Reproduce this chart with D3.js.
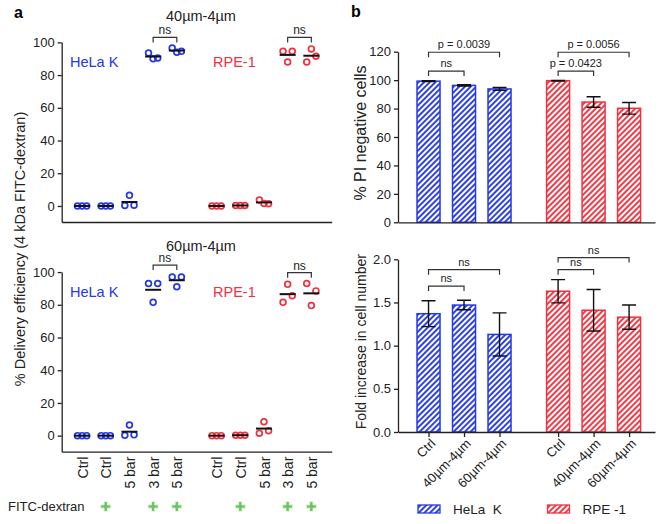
<!DOCTYPE html>
<html lang="en">
<head>
<meta charset="UTF-8">
<title>Delivery efficiency and viability</title>
<style>
  body { margin: 0; background: #fff; }
  svg { display: block; font-family: "Liberation Sans", Arial, sans-serif; }
</style>
</head>
<body>
<main></main>
<script src="https://cdn.jsdelivr.net/npm/d3@7/dist/d3.min.js"></script>
<script>
// ---- panel a ----
var conditionLabels = ["Ctrl", "Ctrl", "5 bar", "3 bar", "5 bar"];
var cellLines = ["HeLa K", "RPE-1"];
var fitcDextran = [false, true, false, true, true];
var deliveryTicks = [0, 20, 40, 60, 80, 100];

// three replicates per condition, in the left-to-right order they are drawn
var hela40 = [[0, 0, 0], [0, 0, 0], [0.3, 6.5, 0.5], [93.5, 90, 90.5], [96.5, 94, 94.5]];
var rpe40 = [[0, 0, 0], [0.3, 0.3, 0.3], [3.6, 1.5, 1.4], [94.5, 88, 94.5], [88, 96, 91.5]];
var hela60 = [[0, 0, 0], [0, 0, 0], [0.3, 6.5, 0.5], [93, 81.5, 93], [97, 91, 97]];
var rpe60 = [[0, 0, 0], [0.3, 0.3, 0.3], [1.5, 8.5, 3], [81.5, 92.5, 85.5], [93, 79.5, 88.5]];

// [line, from, to, level, text]
var brackets40 = [[0, 3, 4, 103, "ns"], [1, 3, 4, 103, "ns"]];
var brackets60 = [[0, 3, 4, 104.3, "ns"], [1, 3, 4, 99.6, "ns"]];

// ---- panel b ----
var barLabels = ["Ctrl", "40µm-4µm", "60µm-4µm"];
var legendLabels = ["HeLa  K", "RPE -1"];
var piTicks = [0, 20, 40, 60, 80, 100, 120];
var piHela = [99.3, 96.3, 93.8];
var piHelaErr = [0.3, 0.4, 1.0];
var piRpe = [99.6, 84.6, 80.2];
var piRpeErr = [0.2, 3.7, 4.1];
var foldTicks = [0, 0.5, 1.0, 1.5, 2.0];
var foldHela = [1.37, 1.47, 1.13];
var foldHelaErr = [0.15, 0.055, 0.25];
var foldRpe = [1.63, 1.41, 1.33];
var foldRpeErr = [0.135, 0.24, 0.14];
var piBrackets = [[0, 0, 1, 106.4, "ns"], [0, 0, 2, 119.6, "p = 0.0039"],
                  [1, 0, 1, 106.4, "p = 0.0423"], [1, 0, 2, 119.6, "p = 0.0056"]];
var foldBrackets = [[0, 0, 1, 1.69, "ns"], [0, 0, 2, 1.88, "ns"],
                    [1, 0, 1, 1.88, "ns"], [1, 0, 2, 2.02, "ns"]];

var blue = "#2438e6";
var red = "#f0323f";
var lineColors = [blue, red];
var ink = "#222";

var svg = d3.select("main").append("svg")
    .attr("width", 661)
    .attr("height", 524);

var defs = svg.append("defs");
lineColors.forEach(function (c, i) {
    var pat = defs.append("pattern")
        .attr("id", "hatch" + i)
        .attr("patternUnits", "userSpaceOnUse")
        .attr("width", 4)
        .attr("height", 4)
        .attr("patternTransform", "rotate(45)");
    pat.append("rect").attr("width", 4).attr("height", 4).attr("fill", "#fff");
    pat.append("line")
        .attr("x1", 2).attr("y1", 0).attr("x2", 2).attr("y2", 4)
        .attr("stroke", c).attr("stroke-width", 1.9);
});

function styleAxis(g, size) {
    g.selectAll("path, line").attr("stroke", ink).attr("stroke-width", 1.3);
    g.selectAll("text").attr("fill", ink).style("font-size", size + "px");
    g.attr("font-family", null);
}

function drawBracket(x, y, b, fontSize, gap) {
    var x1 = x(b[1]), x2 = x(b[2]), yy = y(b[3]);
    svg.append("path")
        .attr("d", `M${x1},${yy + 5}V${yy}H${x2}V${yy + 5}`)
        .attr("fill", "none")
        .attr("stroke", "#333")
        .attr("stroke-width", 1.2);
    svg.append("text")
        .attr("x", (x1 + x2) / 2)
        .attr("y", yy - gap)
        .attr("text-anchor", "middle")
        .style("font-size", fontSize + "px")
        .attr("fill", ink)
        .text(b[4]);
}

// ---------------- panel a ----------------
function drawScatter(bottom, title, sets, brackets, showLabels) {
    var y = d3.scaleLinear().domain([-9.8, 100]).range([bottom, bottom - 109.8 * 1.636]);
    var gapA = 5.68;
    var xs = d3.scaleLinear().domain([-0.86, 10.54]).range([61.7, 331.7]);
    var pos = (g, i) => i + g * gapA;

    var tickPos = [];
    cellLines.forEach((c, g) => conditionLabels.forEach((l, i) => tickPos.push(pos(g, i))));

    var ya = svg.append("g")
        .attr("transform", "translate(61.7,0)")
        .call(d3.axisLeft(y).tickValues(deliveryTicks).tickSize(4).tickSizeOuter(0).tickPadding(3));
    styleAxis(ya, 13);

    var xa = svg.append("g")
        .attr("transform", `translate(0,${bottom})`)
        .call(d3.axisBottom(xs).tickValues(tickPos).tickSize(0).tickSizeOuter(0)
            .tickFormat((d, i) => showLabels ? conditionLabels[i % conditionLabels.length] : ""));
    styleAxis(xa, 14);
    xa.selectAll("text")
        .attr("transform", "rotate(-90)")
        .attr("x", -5)
        .attr("y", 0)
        .attr("dy", "0.36em")
        .style("text-anchor", "end");

    svg.append("text")
        .attr("x", 201)
        .attr("y", bottom - 201)
        .attr("text-anchor", "middle")
        .style("font-size", "14.5px")
        .attr("fill", ink)
        .text(title);

    cellLines.forEach(function (name, g) {
        svg.append("text")
            .attr("x", g === 0 ? 70 : 213)
            .attr("y", bottom - 155)
            .style("font-size", "14.5px")
            .attr("fill", lineColors[g])
            .text(name);

        var groups = svg.append("g").selectAll("g")
            .data(sets[g])
            .enter()
            .append("g");

        groups.selectAll("circle")
            .data((vals, i) => vals.map((v, k) => ({ v: v, i: i, k: k })))
            .enter()
            .append("circle")
            .attr("cx", d => xs(pos(g, d.i)) + (d.k - 1) * 4.6)
            .attr("cy", d => y(d.v))
            .attr("r", 2.9)
            .attr("fill", "none")
            .attr("stroke", lineColors[g])
            .attr("stroke-width", 1.7);

        groups.append("line")
            .attr("x1", (vals, i) => xs(pos(g, i)) - 8)
            .attr("x2", (vals, i) => xs(pos(g, i)) + 8)
            .attr("y1", vals => y(d3.mean(vals)))
            .attr("y2", vals => y(d3.mean(vals)))
            .attr("stroke", "#111")
            .attr("stroke-width", 2);
    });

    brackets.forEach(b => drawBracket(v => xs(pos(b[0], v)), y, b, 12, 3));

    if (showLabels) {
        svg.append("text")
            .attr("x", 8)
            .attr("y", 511)
            .style("font-size", "13px")
            .attr("fill", ink)
            .text("FITC-dextran");

        svg.append("g").selectAll("path")
            .data(tickPos.filter((p, i) => fitcDextran[i % fitcDextran.length]))
            .enter()
            .append("path")
            .attr("transform", p => `translate(${xs(p)},506.5)`)
            .attr("d", d3.symbol(d3.symbolCross, 58))
            .attr("fill", "#6cc36e")
            .attr("stroke", "#eef8d8")
            .attr("stroke-width", 1);
    }
}

svg.append("text").attr("x", 14).attr("y", 18)
    .style("font-size", "16px").style("font-weight", "bold").text("a");

drawScatter(222, "40µm-4µm", [hela40, rpe40], brackets40, false);
drawScatter(451.7, "60µm-4µm", [hela60, rpe60], brackets60, true);

svg.append("text")
    .attr("transform", "translate(25,249) rotate(-90)")
    .attr("text-anchor", "middle")
    .style("font-size", "14.5px")
    .attr("fill", ink)
    .text("% Delivery efficiency (4 kDa FITC-dextran)");

// ---------------- panel b ----------------
function drawBars(bottom, top, domainMax, ticks, fmt, vals, errs, brackets, yLabel, labelSize, showLabels) {
    var y = d3.scaleLinear().domain([0, domainMax]).range([bottom, top]);
    var gapB = 3.65;
    var xs = d3.scaleLinear().domain([-0.86, 6.38]).range([398, 655]);
    var pos = (g, i) => i + g * gapB;

    var tickPos = [];
    cellLines.forEach((c, g) => barLabels.forEach((l, i) => tickPos.push(pos(g, i))));

    var ya = svg.append("g")
        .attr("transform", "translate(398,0)")
        .call(d3.axisLeft(y).tickValues(ticks).tickSize(4).tickSizeOuter(0).tickPadding(3).tickFormat(d3.format(fmt)));
    styleAxis(ya, 13);

    cellLines.forEach(function (name, g) {
        var bars = svg.append("g").selectAll("g")
            .data(vals[g])
            .enter()
            .append("g");

        bars.append("rect")
            .attr("x", (v, i) => xs(pos(g, i)) - 11.5)
            .attr("width", 23)
            .attr("y", v => y(v))
            .attr("height", v => y(0) - y(v))
            .attr("fill", `url(#hatch${g})`)
            .attr("stroke", lineColors[g])
            .attr("stroke-width", 1.5);

        bars.append("path")
            .attr("d", (v, i) => {
                var cx = xs(pos(g, i)), e = errs[g][i];
                var hi = y(v + e), lo = y(v - e);
                return `M${cx - 7},${hi}H${cx + 7}M${cx},${hi}V${lo}M${cx - 7},${lo}H${cx + 7}`;
            })
            .attr("fill", "none")
            .attr("stroke", "#111")
            .attr("stroke-width", 1.4);
    });

    var xa = svg.append("g")
        .attr("transform", `translate(0,${bottom})`)
        .call(d3.axisBottom(xs).tickValues(tickPos).tickSize(showLabels ? 5 : 0).tickSizeOuter(0)
            .tickFormat((d, i) => showLabels ? barLabels[i % barLabels.length] : ""));
    styleAxis(xa, 13);
    xa.selectAll("text")
        .attr("transform", "translate(4,9) rotate(-45)")
        .attr("x", 0)
        .attr("y", 0)
        .attr("dy", "0.35em")
        .style("text-anchor", "end");

    brackets.forEach(b => drawBracket(v => xs(pos(b[0], v)), y, b, 11, 4));

    svg.append("text")
        .attr("transform", `translate(366,${(top + bottom) / 2 - 4}) rotate(-90)`)
        .attr("text-anchor", "middle")
        .style("font-size", labelSize + "px")
        .attr("fill", ink)
        .text(yLabel);
}

svg.append("text").attr("x", 351).attr("y", 17)
    .style("font-size", "16px").style("font-weight", "bold").text("b");

drawBars(222.3, 51.7, 120, piTicks, "d", [piHela, piRpe], [piHelaErr, piRpeErr], piBrackets, "% PI negative cells", 16, false);
drawBars(432, 259.3, 2.0, foldTicks, ".1f", [foldHela, foldRpe], [foldHelaErr, foldRpeErr], foldBrackets, "Fold increase in cell number", 14, true);

// legend
var legend = svg.append("g").selectAll("g")
    .data(legendLabels)
    .enter()
    .append("g")
    .attr("transform", (d, i) => `translate(${i === 0 ? 418 : 547.5},505)`);

legend.append("rect")
    .attr("width", 22)
    .attr("height", 8)
    .attr("fill", (d, i) => `url(#hatch${i})`)
    .attr("stroke", (d, i) => lineColors[i])
    .attr("stroke-width", 1.3);

legend.append("text")
    .attr("x", 35)
    .attr("y", 9)
    .style("font-size", "13.5px")
    .attr("fill", ink)
    .style("white-space", "pre")
    .text(d => d);
</script>
</body>
</html>
